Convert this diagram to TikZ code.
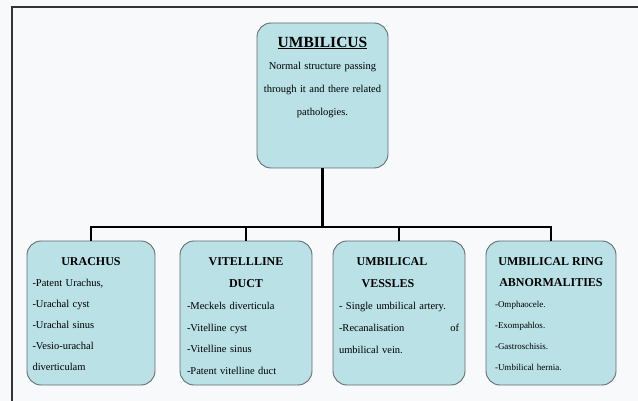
\documentclass[tikz,border=0pt]{standalone}
\usepackage{fontspec}
\setmainfont{Liberation Serif}
\usetikzlibrary{positioning}

\definecolor{boxfill}{RGB}{185,225,230}
\definecolor{boxline}{RGB}{100,108,112}
\definecolor{pagebg}{RGB}{248,249,251}
\newcommand{\boxtitle}[1]{\makebox[\hsize]{\bfseries\fontsize{12}{21}\selectfont #1}}

\tikzset{
    pbox/.style={draw=boxline, fill=boxfill, line width=0.9pt, rounded corners=14pt,
        minimum height=144pt, inner sep=0pt},
    ptext/.style={text width=#1, align=left, inner sep=0pt,
        font=\fontsize{10.5}{21}\selectfont},
    link/.style={line width=2.6pt, black}
}

\begin{document}
\begin{tikzpicture}[x=1pt,y=-1pt]
                \fill[pagebg] (0,0) rectangle (638,401);
                \useasboundingbox (0,0) rectangle (638,401);
                \draw[line width=1.4pt, black!80] (12,401) -- (12,7) -- (638,7);
                %% Boxes
                \node[pbox, minimum width=131pt, minimum height=145pt] (umbilicus) at (322.5,95.5) {};
                \node[pbox, minimum width=128pt] (urachus) at (91,313) {};
                \node[pbox, minimum width=132pt] (vitelline) at (246,313) {};
                \node[pbox, minimum width=132pt] (vessels) at (399,313) {};
                \node[pbox, minimum width=130pt] (ring) at (551,313) {};
                %% Texts
                \node[ptext=126pt, align=center, below=14pt of umbilicus.north,
                      font=\fontsize{10.5}{23}\selectfont] (umbilicusText)
                    {{\bfseries\fontsize{15.5}{23}\selectfont\underline{UMBILICUS}}\\[-1pt]
                     Normal structure passing\\ through it and there related\\ pathologies.};
                \node[ptext=117pt, below=17pt of urachus.north] (urachusText)
                    {\boxtitle{URACHUS}\\ -Patent Urachus,\\ -Urachal cyst\\ -Urachal sinus\\
                     -Vesio-urachal\\ diverticulam};
                \node[ptext=118pt, below=17pt of vitelline.north,
                      font=\fontsize{10.5}{21.8}\selectfont] (vitellineText)
                    {\boxtitle{VITELLLINE}\\ \boxtitle{DUCT}\\ -Meckels diverticula\\
                     -Vitelline cyst\\ -Vitelline sinus\\ -Patent vitelline duct};
                \node[ptext=120pt, below=17pt of vessels.north,
                      font=\fontsize{10.5}{22}\selectfont] (vesselsText)
                    {\boxtitle{UMBILICAL\hspace{14pt}}\\ \boxtitle{VESSLES\hspace{22pt}}\\
                     - Single umbilical artery.\\ -Recanalisation\hfill of\\ umbilical vein.};
                \node[ptext=112pt, below=17pt of ring.north, font=\fontsize{9}{21}\selectfont] (ringText)
                    {\boxtitle{UMBILICAL RING}\\ \boxtitle{ABNORMALITIES}\\ -Omphaocele.\\
                     -Exompahlos.\\ -Gastroschisis.\\ -Umbilical hernia.};
                %% Connectors
                \coordinate (hub) at (322.5,227);
                \draw[link] (umbilicus) -- (hub);
                \draw[link] (urachus.north) |- (hub) -| (ring.north);
                \draw[link] (vitelline.north) -- (vitelline.north |- hub);
                \draw[link] (vessels.north) -- (vessels.north |- hub);
\end{tikzpicture}
\end{document}
